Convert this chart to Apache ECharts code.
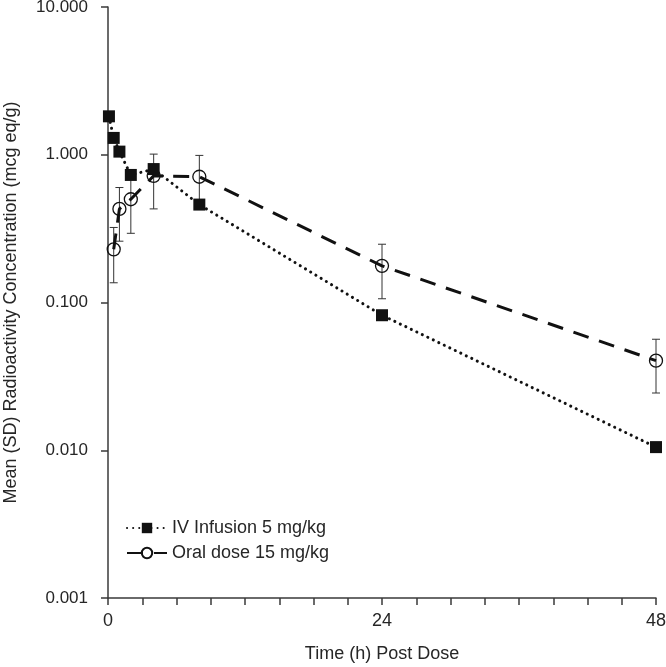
<!DOCTYPE html>
<html>
<head>
<meta charset="utf-8">
<script src="https://cdn.jsdelivr.net/npm/echarts@6/dist/echarts.min.js"></script>
<style>
html,body{margin:0;padding:0;background:#fff;}
#chart{width:666px;height:667px;}
</style>
</head>
<body>
<div id="chart"></div>
<script>
// Data
const xTickLabels = [0, 24, 48];
const yTickLabels = ['0.001', '0.010', '0.100', '1.000', '10.000'];
const ivName = 'IV Infusion 5 mg/kg';
const ivTime = [0.083, 0.5, 1, 2, 4, 8, 24, 48];
const ivMean = [1.82, 1.30, 1.05, 0.73, 0.80, 0.46, 0.082, 0.0105];
const oralName = 'Oral dose 15 mg/kg';
const oralTime = [0.5, 1, 2, 4, 8, 24, 48];
const oralMean = [0.229, 0.43, 0.50, 0.72, 0.71, 0.177, 0.0404];
const oralSD = [0.093, 0.17, 0.206, 0.29, 0.28, 0.071, 0.016];

const FONT = '"Liberation Sans", Arial, sans-serif';
const TXT = '#262626';
const AX = '#3a3a3a';

const ivData = ivTime.map((t, i) => [t, ivMean[i]]);
const oralData = oralTime.map((t, i) => [t, oralMean[i]]);
const oralErr = oralTime.map((t, i) => [t, oralMean[i], oralSD[i]]);

const chart = echarts.init(document.getElementById('chart'), null, {renderer: 'canvas'});
chart.setOption({
  animation: false,
  backgroundColor: '#fff',
  textStyle: {fontFamily: FONT, color: TXT},
  grid: {left: 108, right: 10, top: 7, bottom: 69, containLabel: false, outerBoundsMode: 'none'},
  legend: {
    left: 121, top: 514, orient: 'vertical',
    itemWidth: 40, itemHeight: 13, itemGap: 7,
    textStyle: {fontFamily: FONT, fontSize: 18, color: TXT},
    data: [ivName, oralName]
  },
  xAxis: {
    type: 'value', min: 0, max: 48, interval: 3,
    name: 'Time (h) Post Dose', nameLocation: 'middle', nameGap: 47,
    nameTextStyle: {fontFamily: FONT, fontSize: 18, color: TXT},
    axisLine: {show: true, lineStyle: {color: AX, width: 1.5}},
    axisTick: {show: true, inside: false, length: 7, lineStyle: {color: AX, width: 1.5}},
    axisLabel: {
      margin: 14, fontFamily: FONT, fontSize: 18, color: TXT,
      formatter: v => (xTickLabels.indexOf(v) >= 0 ? String(v) : '')
    },
    splitLine: {show: false}
  },
  yAxis: {
    type: 'log', logBase: 10, min: 0.001, max: 10,
    name: 'Mean (SD) Radioactivity Concentration (mcg eq/g)',
    nameLocation: 'middle', nameGap: 88, nameRotate: 90,
    nameTextStyle: {fontFamily: FONT, fontSize: 18, color: TXT},
    axisLine: {show: true, lineStyle: {color: AX, width: 1.5}},
    axisTick: {show: true, inside: false, length: 7, lineStyle: {color: AX, width: 1.5}},
    minorTick: {show: false},
    axisLabel: {
      margin: 20, fontFamily: FONT, fontSize: 17, color: TXT,
      formatter: v => {
        const e = Math.round(Math.log10(v));
        return yTickLabels[e + 3];
      }
    },
    splitLine: {show: false}
  },
  series: [
    {
      name: 'oralErr', type: 'custom', data: oralErr, z: 1,
      renderItem: (params, api) => {
        const x = api.value(0), m = api.value(1), sd = api.value(2);
        const top = api.coord([x, m + sd]);
        const bot = api.coord([x, m - sd]);
        const st = {stroke: '#333', lineWidth: 1, fill: null};
        return {
          type: 'group',
          children: [
            {type: 'line', shape: {x1: top[0], y1: top[1], x2: bot[0], y2: bot[1]}, style: st},
            {type: 'line', shape: {x1: top[0] - 4, y1: top[1], x2: top[0] + 4, y2: top[1]}, style: st},
            {type: 'line', shape: {x1: bot[0] - 4, y1: bot[1], x2: bot[0] + 4, y2: bot[1]}, style: st}
          ]
        };
      },
      silent: true
    },
    {
      name: oralName, type: 'line', data: oralData, z: 2,
      symbol: 'circle', symbolSize: 13,
      itemStyle: {color: 'rgba(255,255,255,0)', borderColor: '#111', borderWidth: 1.3},
      lineStyle: {color: '#111', width: 3, type: [16, 11]}
    },
    {
      name: ivName, type: 'line', data: ivData, z: 3,
      symbol: 'rect', symbolSize: 12,
      itemStyle: {color: '#111'},
      lineStyle: {color: '#111', width: 3, type: [0.1, 6], cap: 'round'}
    }
  ]
});
</script>
</body>
</html>
